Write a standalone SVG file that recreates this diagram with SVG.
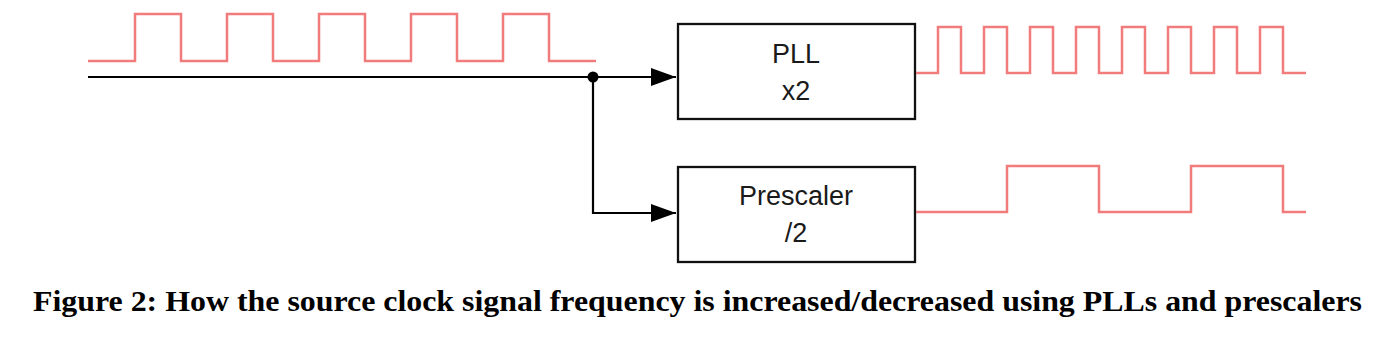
<svg xmlns="http://www.w3.org/2000/svg" width="1388" height="348" viewBox="0 0 1388 348">
<style>
.wave{fill:none;stroke:#f27b7b;stroke-width:2.5;stroke-linejoin:miter}
.wire{fill:none;stroke:#000;stroke-width:2.2}
.box{fill:#fff;stroke:#111;stroke-width:2.3}
.lbl{font-family:"Liberation Sans",Arial,sans-serif;font-size:27px;fill:#1a1a1a;text-anchor:middle}
.cap{font-family:"Liberation Serif","Times New Roman",serif;font-weight:bold;font-size:30px;fill:#000}
</style>
<defs>
<marker id="arr" markerWidth="26" markerHeight="18" refX="25" refY="9" orient="auto" markerUnits="userSpaceOnUse">
<path d="M0,0 L25,9 L0,18 Z" fill="#000"/>
</marker>
</defs>
<g id="input-wave">
<path class="wave" d="M88,61 H135 V14 H181 V61 H227 V14 H273 V61 H319 V14 H365 V61 H411 V14 H457 V61 H503 V14 H549 V61 H596"/>
</g>
<g id="connectors">
<path class="wire" d="M88,77 H676" marker-end="url(#arr)"/>
<path class="wire" d="M593,77 V213 H676" marker-end="url(#arr)"/>
<circle cx="593" cy="77" r="5.5" fill="#000"/>
</g>
<g id="pll">
<rect class="box" x="678" y="24" width="237" height="95"/>
<text class="lbl" x="796" y="63">PLL</text>
<text class="lbl" x="796" y="100">x2</text>
</g>
<g id="prescaler">
<rect class="box" x="678" y="167" width="237" height="95"/>
<text class="lbl" x="796" y="205">Prescaler</text>
<text class="lbl" x="796" y="242">/2</text>
</g>
<g id="pll-wave">
<path class="wave" d="M916,73 H938 V27 H961 V73 H984 V27 H1007 V73 H1030 V27 H1053 V73 H1076 V27 H1099 V73 H1122 V27 H1145 V73 H1168 V27 H1191 V73 H1214 V27 H1237 V73 H1260 V27 H1283 V73 H1306"/>
</g>
<g id="prescaler-wave">
<path class="wave" d="M916,212 H1007 V166 H1099 V212 H1191 V166 H1283 V212 H1306"/>
</g>
<text class="cap" x="33" y="311" textLength="1329" lengthAdjust="spacingAndGlyphs">Figure 2: How the source clock signal frequency is increased/decreased using PLLs and prescalers</text>
</svg>
